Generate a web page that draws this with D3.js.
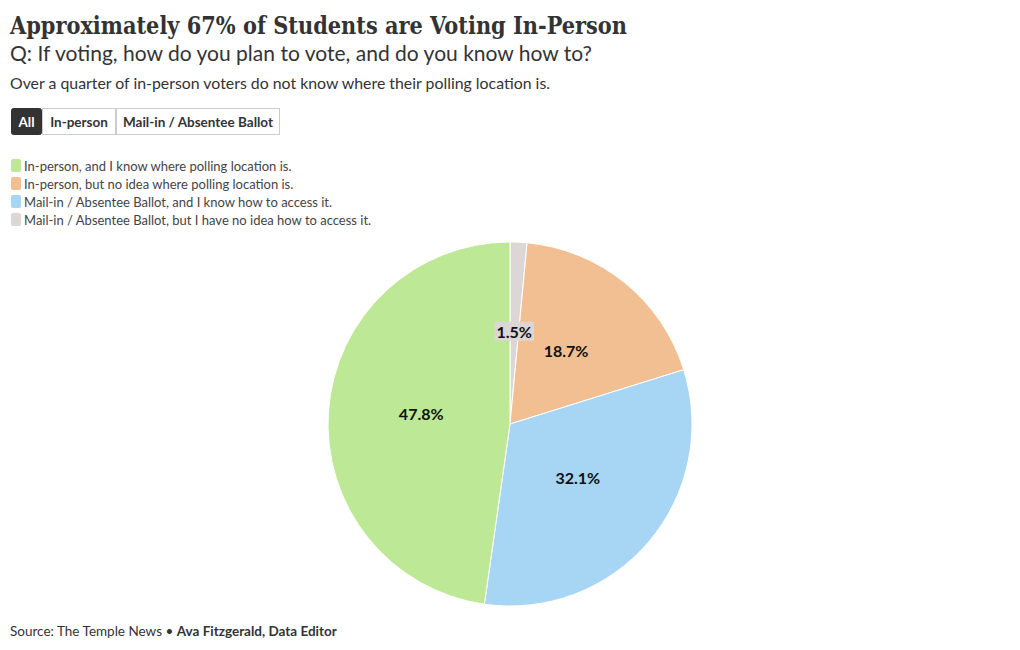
<!DOCTYPE html>
<html><head><meta charset="utf-8">
<script src="https://cdn.jsdelivr.net/npm/d3@7"></script>
<style>body{margin:0;background:#fff}svg{display:block}</style>
</head><body>
<svg id="c" width="1020" height="650"></svg>
<script>
const categories = [
  "In-person, and I know where polling location is.",
  "In-person, but no idea where polling location is.",
  "Mail-in / Absentee Ballot, and I know how to access it.",
  "Mail-in / Absentee Ballot, but I have no idea how to access it."
];
const values = [47.8, 18.7, 32.1, 1.5];
const colors = ["#bde896", "#f2bf93", "#a6d6f4", "#ddd6d6"];
const drawOrder = [3, 1, 2, 0]; // clockwise from 12 o'clock
const buttons = ["All", "In-person", "Mail-in / Absentee Ballot"];

const sans = "'Source Sans Pro', Lato, 'Noto Sans', sans-serif";
const svg = d3.select("#c");

svg.append("text").attr("x", 10).attr("y", 34).text("Approximately 67% of Students are Voting In-Person")
  .style("font-family", "'DejaVu Serif', serif").style("font-weight", "bold").style("font-size", "25px").attr("fill", "#333")
  .attr("textLength", 617).attr("lengthAdjust", "spacingAndGlyphs");
svg.append("text").attr("x", 10).attr("y", 61).text("Q: If voting, how do you plan to vote, and do you know how to?")
  .style("font-family", sans).style("font-size", "21px").attr("fill", "#333")
  .attr("textLength", 582).attr("lengthAdjust", "spacingAndGlyphs");
svg.append("text").attr("x", 10).attr("y", 89).text("Over a quarter of in-person voters do not know where their polling location is.")
  .style("font-family", sans).style("font-size", "16px").attr("fill", "#333")
  .attr("textLength", 540).attr("lengthAdjust", "spacingAndGlyphs");

// buttons
const bx = [11, 42, 116, 280];
const bg = svg.append("g");
buttons.forEach((b, i) => {
  bg.append("rect").attr("x", bx[i] + 0.5).attr("y", 108.5).attr("width", bx[i+1] - bx[i] - 1).attr("height", 26)
    .attr("rx", i === 0 ? 2 : 0)
    .attr("fill", i === 0 ? "#333" : "#fff").attr("stroke", i === 0 ? "#333" : "#ccc");
  bg.append("text").attr("x", (bx[i] + bx[i+1]) / 2).attr("y", 126.5).attr("text-anchor", "middle").text(b)
    .style("font-family", sans).style("font-weight", "bold").style("font-size", "13.5px")
    .attr("fill", i === 0 ? "#fff" : "#333");
});

// legend
const lg = svg.append("g");
categories.forEach((c, i) => {
  const y = 166 + i * 18;
  lg.append("rect").attr("x", 11).attr("y", y - 7).attr("width", 10).attr("height", 13).attr("rx", 2).attr("fill", colors[i]);
  lg.append("text").attr("x", 24).attr("y", y + 4.5).text(c)
    .style("font-family", sans).style("font-size", "13px").attr("fill", "#444");
});

// pie
const cx = 510, cy = 424, R = 182;
const pieData = drawOrder.map(i => ({i, v: values[i]}));
const pie = d3.pie().value(d => d.v).sort(null);
const arcs = pie(pieData);
const arc = d3.arc().innerRadius(0).outerRadius(R);
const labelArc = d3.arc().innerRadius(0).outerRadius(R - 4);
const pg = svg.append("g").attr("transform", `translate(${cx},${cy})`);
pg.selectAll("path").data(arcs).join("path").attr("d", arc)
  .attr("fill", d => colors[d.data.i]).attr("stroke", "#fff").attr("stroke-width", 1);
arcs.forEach(d => {
  const [x, y] = labelArc.centroid(d);
  const t = d.data.v.toFixed(1) + "%";
  const g = pg.append("g").attr("transform", `translate(${x},${y - 3})`);
  const txt = g.append("text").attr("text-anchor", "middle").attr("dy", "0.35em").text(t)
    .style("font-family", sans).style("font-weight", "bold").style("font-size", "16px").attr("fill", "#111");
  if (d.data.v < 5) {
    const bb = txt.node().getBBox();
    g.insert("rect", "text").attr("x", bb.x - 2).attr("y", bb.y).attr("width", bb.width + 4).attr("height", bb.height)
      .attr("fill", colors[d.data.i]);
  }
});

// footer
const ft = svg.append("text").attr("x", 10).attr("y", 636).style("font-family", sans).style("font-size", "13.5px").attr("fill", "#333");
ft.append("tspan").text("Source: The Temple News • ");
ft.append("tspan").text("Ava Fitzgerald, Data Editor").style("font-weight", "bold");
</script>
</body></html>
